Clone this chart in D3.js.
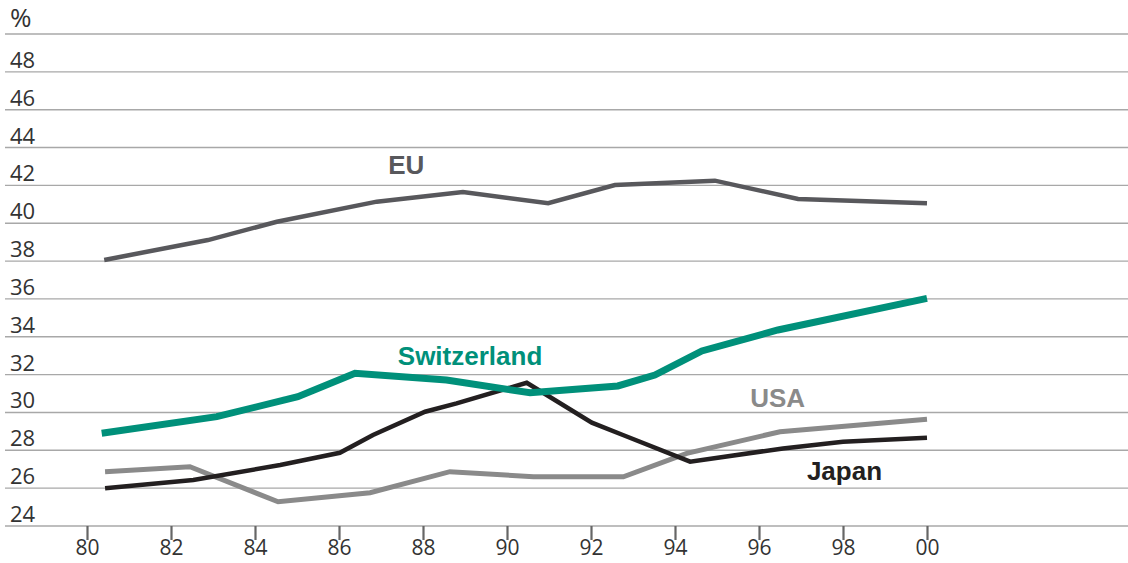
<!DOCTYPE html>
<html>
<head>
<meta charset="utf-8">
<script src="https://cdn.jsdelivr.net/npm/d3@7.9.0/dist/d3.min.js"></script>
<style>
  body { margin: 0; background: #fff; }
  svg { display: block; }
  .tick-label { font-family: "Open Sans", sans-serif; fill: #333; }
  .series-label { font-family: "Liberation Sans", Arial, sans-serif; font-weight: bold; font-size: 26px; }
</style>
</head>
<body>
<svg id="chart" width="1128" height="563"></svg>
<script>
// years are given as fractional positions (80 = 1980, 100 = 2000)
const euYears = [80.41, 82.88, 84.52, 86.9, 88.95, 90.98, 92.57, 94.95, 96.93, 100];
const euValues = [38.06, 39.11, 40.08, 41.14, 41.65, 41.06, 42.02, 42.25, 41.28, 41.06];

const swissYears = [80.35, 83.09, 85.02, 86.38, 88.56, 90.55, 92.64, 93.52, 94.64, 96.45, 100];
const swissValues = [28.9, 29.78, 30.83, 32.07, 31.71, 31.04, 31.4, 31.98, 33.25, 34.36, 36.03];

const japanYears = [80.43, 82.53, 84.6, 86.02, 86.81, 88.05, 88.8, 90.47, 92.02, 92.76, 94.36, 96.57, 98.0, 100];
const japanValues = [25.99, 26.43, 27.22, 27.87, 28.81, 30.04, 30.48, 31.57, 29.46, 28.81, 27.4, 28.1, 28.45, 28.67];

const usaYears = [80.43, 82.45, 84.55, 86.74, 88.64, 90.63, 92.77, 94.28, 96.5, 100];
const usaValues = [26.87, 27.13, 25.28, 25.76, 26.87, 26.6, 26.6, 27.84, 28.98, 29.64];

const xTicks = [80, 82, 84, 86, 88, 90, 92, 94, 96, 98, 100];
const xTickLabels = ["80", "82", "84", "86", "88", "90", "92", "94", "96", "98", "00"];
const yTicks = [24, 26, 28, 30, 32, 34, 36, 38, 40, 42, 44, 46, 48];
const yTop = 50;

const series = [
  { name: "EU", years: euYears, values: euValues, color: "#58585c", width: 4.5, label: [87.17, 42.6] },
  { name: "USA", years: usaYears, values: usaValues, color: "#8a8a8a", width: 5, label: [95.79, 30.29] },
  { name: "Japan", years: japanYears, values: japanValues, color: "#231f20", width: 4.5, label: [97.14, 26.43] },
  { name: "Switzerland", years: swissYears, values: swissValues, color: "#00907a", width: 7, label: [87.4, 32.5] }
];

const svg = d3.select("#chart");

const x = d3.scaleLinear().domain([80, 100]).range([87, 927]);
const y = d3.scaleLinear().domain([24, yTop]).range([526, 34]);

// horizontal grid lines (incl. the top one under the "%" sign)
svg.append("g")
  .selectAll("line")
  .data(yTicks.concat([yTop]))
  .join("line")
  .attr("x1", 5).attr("x2", 1128)
  .attr("y1", d => y(d)).attr("y2", d => y(d))
  .attr("stroke", "#a8a8a8")
  .attr("stroke-width", 1.4);

// y labels sit just above their line
svg.append("g")
  .selectAll("text")
  .data(yTicks)
  .join("text")
  .attr("class", "tick-label")
  .attr("x", 10)
  .attr("y", d => y(d) - 4)
  .attr("font-size", 22)
  .text(d => d);

svg.append("text")
  .attr("class", "tick-label")
  .attr("x", 10)
  .attr("y", y(yTop) - 7)
  .attr("font-size", 26)
  .text("%");

// x axis
const xAxis = d3.axisBottom(x)
  .tickValues(xTicks)
  .tickFormat((d, i) => xTickLabels[i])
  .tickSize(14)
  .tickPadding(0);

const gx = svg.append("g")
  .attr("transform", `translate(0,${y(24)})`)
  .call(xAxis);
gx.select(".domain").remove();
gx.selectAll(".tick line").attr("stroke", "#666").attr("stroke-width", 2.2);
gx.selectAll(".tick text")
  .attr("class", "tick-label")
  .attr("font-size", 21)
  .attr("fill", "#333");

const line = d3.line()
  .x(d => x(d[0]))
  .y(d => y(d[1]));

svg.append("g")
  .selectAll("path")
  .data(series)
  .join("path")
  .attr("d", s => line(s.years.map((yr, i) => [yr, s.values[i]])))
  .attr("fill", "none")
  .attr("stroke", s => s.color)
  .attr("stroke-width", s => s.width)
  .attr("stroke-linejoin", "miter");

svg.append("g")
  .selectAll("text")
  .data(series)
  .join("text")
  .attr("class", "series-label")
  .attr("x", s => x(s.label[0]))
  .attr("y", s => y(s.label[1]))
  .attr("fill", s => s.color)
  .text(s => s.name);
</script>
</body>
</html>
